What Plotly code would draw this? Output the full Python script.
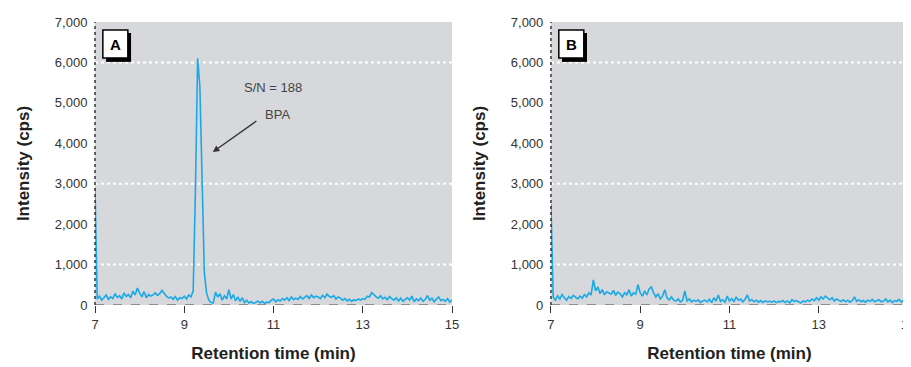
import plotly.graph_objects as go

# Retention time grid (min), 0.05 min sampling from 7 to 15
times = [round(7 + 0.05 * i, 2) for i in range(161)]

# Panel A: intensity (cps)
intensity_a = [
    2900, 150, 220, 120, 180, 250, 140, 200, 160, 280,
    190, 230, 150, 300, 210, 260, 180, 340, 250, 420,
    300, 200, 330, 180, 260, 220, 250, 300, 240, 280,
    360, 280, 220, 170, 200, 140, 210, 120, 180, 160,
    220, 150, 250, 200, 350, 2800, 6100, 5400, 3000, 800,
    300, 120, 60, 50, 320, 200, 280, 120, 230, 150,
    380, 150, 260, 100, 200, 90, 180, 60, 120, 50,
    80, 40, 60, 100, 50, 90, 40, 70, 60, 120,
    150, 80, 130, 100, 160, 120, 180, 110, 200, 130,
    170, 140, 210, 150, 190, 230, 160, 250, 180, 220,
    200, 160, 240, 180, 270, 210, 190, 230, 150, 200,
    170, 120, 160, 100, 140, 90, 130, 110, 150, 120,
    160, 140, 220, 200, 310, 250, 200, 170, 230, 150,
    190, 130, 210, 160, 120, 180, 100, 170, 90, 140,
    180, 120, 220, 80, 150, 110, 170, 90, 140, 230,
    120, 170, 80, 150, 200, 110, 140, 90, 160, 70,
    130,
]

# Panel B: intensity (cps)
intensity_b = [
    2500, 200, 120, 230, 150, 260, 180, 120, 210, 160,
    240, 190, 150, 220, 170, 260, 200, 300, 250, 620,
    350, 450, 280, 380, 250, 330, 300, 270, 360, 240,
    320, 280, 200, 300, 250, 380, 220, 300, 270, 500,
    300, 220, 350, 250, 400, 450, 300, 200, 280, 150,
    220, 380, 180, 130, 200, 120, 100, 150, 80, 120,
    350, 100, 150, 80, 120, 90, 130, 60, 100, 120,
    80, 140, 60, 180, 100, 250, 90, 130, 70, 220,
    100, 160, 80, 200, 120, 150, 80, 140, 250, 100,
    130, 80, 120, 70, 110, 60, 100, 80, 90, 70,
    100, 60, 90, 80, 110, 60, 100, 50, 130, 90,
    110, 70, 50, 100, 80, 120, 90, 150, 110, 180,
    120, 200, 150, 220, 170, 130, 180, 100, 150, 110,
    90, 130, 80, 120, 70, 110, 200, 90, 130, 80,
    110, 70, 120, 90, 140, 80, 110, 130, 80, 100,
    150, 80, 120, 60, 110, 90, 140, 70, 120, 160,
    100,
]

x_ticks = [7, 9, 11, 13, 15]
y_ticks = [0, 1000, 2000, 3000, 4000, 5000, 6000, 7000]
y_tick_labels = ["0", "1,000", "2,000", "3,000", "4,000", "5,000", "6,000", "7,000"]
grid_levels = [1000, 3000, 6000]
panel_labels = ["A", "B"]

LINE = "#19a9e6"
TXT = "#333333"
FONT = "Liberation Sans, Arial, sans-serif"

fig = go.Figure()
fig.add_trace(go.Scatter(x=times, y=intensity_a, mode="lines",
                         line=dict(color=LINE, width=1.6), xaxis="x", yaxis="y",
                         showlegend=False))
fig.add_trace(go.Scatter(x=times, y=intensity_b, mode="lines",
                         line=dict(color=LINE, width=1.6), xaxis="x2", yaxis="y2",
                         showlegend=False))

ydom = [0.1907, 0.9619]
xaxis_common = dict(range=[7, 15], tickvals=x_ticks, ticks="outside", ticklen=7,
                    tickwidth=1.3, tickcolor="#333", showgrid=False, zeroline=False,
                    showline=False, automargin=False,
                    tickfont=dict(family=FONT, size=13, color=TXT),
                    title=dict(text="Retention time (min)", standoff=16,
                               font=dict(family=FONT, size=17, color="#222", weight="bold")))
yaxis_common = dict(range=[0, 7000], tickvals=y_ticks, ticktext=y_tick_labels,
                    ticks="outside", ticklen=4, tickcolor="rgba(0,0,0,0)",
                    showgrid=False, zeroline=False, showline=False, domain=ydom,
                    automargin=False,
                    tickfont=dict(family=FONT, size=13, color=TXT),
                    title=dict(text="Intensity (cps)", standoff=20,
                               font=dict(family=FONT, size=17, color="#222", weight="bold")))

fig.update_layout(
    width=911, height=367,
    margin=dict(l=0, r=0, t=0, b=0),
    paper_bgcolor="white",
    plot_bgcolor="#d7d8dc",
    xaxis=dict(domain=[0.0955, 0.4874], anchor="y", **xaxis_common),
    yaxis=dict(anchor="x", **yaxis_common),
    xaxis2=dict(domain=[0.5960, 0.9879], anchor="y2", **xaxis_common),
    yaxis2=dict(anchor="x2", **yaxis_common),
)

shapes = []
annotations = []
label_x = [0.1180, 0.6186]
for k, (xr, yr) in enumerate([("x", "y"), ("x2", "y2")]):
    for g in grid_levels:
        shapes.append(dict(type="line", xref=f"{xr} domain", yref=yr, x0=0, x1=1, y0=g, y1=g,
                           line=dict(color="white", width=2, dash="dot"), layer="below"))
    shapes.append(dict(type="line", xref=f"{xr} domain", yref=yr, x0=0, x1=1, y0=0, y1=0,
                       line=dict(color="#444", width=1.2, dash="dash"), layer="below"))
    shapes.append(dict(type="line", xref=f"{xr} domain", yref=f"{yr} domain", x0=0, x1=0, y0=0, y1=1,
                       line=dict(color="#333", width=1.5, dash="dot"), layer="above"))
    shapes.append(dict(type="rect", xref=f"{xr} domain", yref=f"{yr} domain",
                       x0=0.031, x1=0.101, y0=0.859, y1=0.961,
                       fillcolor="black", line=dict(width=0), layer="above"))
    shapes.append(dict(type="rect", xref=f"{xr} domain", yref=f"{yr} domain",
                       x0=0.022, x1=0.092, y0=0.873, y1=0.972,
                       fillcolor="white", line=dict(color="black", width=1.5), layer="above"))
    annotations.append(dict(xref="paper", yref="paper", x=label_x[k], y=0.9019,
                            xanchor="center", yanchor="middle",
                            text=f"<b>{panel_labels[k]}</b>", showarrow=False,
                            font=dict(family=FONT, size=15, color="black")))

annotations.append(dict(xref="x", yref="y", x=10.99, y=5392, text="S/N = 188", showarrow=False,
                        font=dict(family=FONT, size=13, color="#444")))
annotations.append(dict(xref="x", yref="y", x=11.08, y=4700, text="BPA", showarrow=False,
                        font=dict(family=FONT, size=13, color="#444")))
annotations.append(dict(xref="x", yref="y", x=9.64, y=3784, axref="x", ayref="y",
                        ax=10.65, ay=4576, text="", showarrow=True, arrowhead=2,
                        arrowsize=1, arrowwidth=1.3, arrowcolor="#333"))

fig.update_layout(shapes=shapes, annotations=annotations)
fig.write_html("out.html")
